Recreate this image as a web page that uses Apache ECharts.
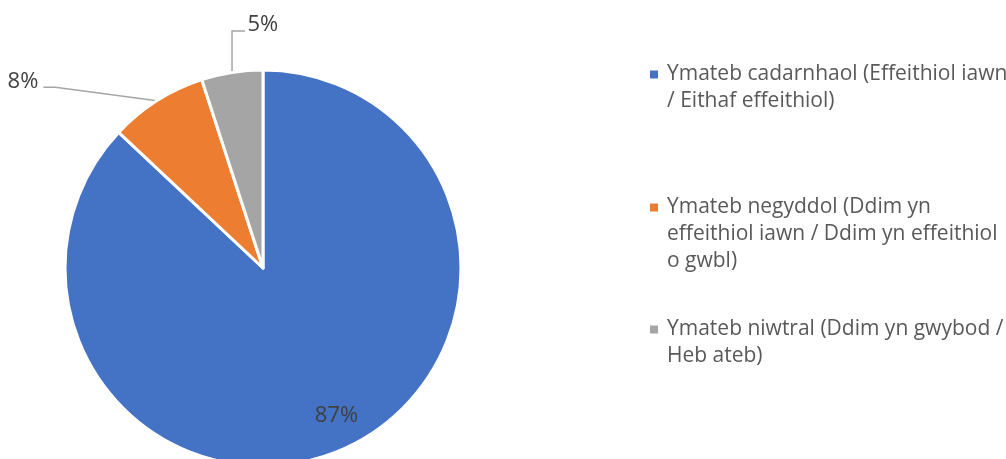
<!DOCTYPE html>
<html><head><meta charset="utf-8">
<script src="https://cdn.jsdelivr.net/npm/echarts@6/dist/echarts.min.js"></script>
<style>html,body{margin:0;padding:0;background:#fff}#c{width:1006px;height:459px}</style>
</head><body><div id="c"></div>
<script>
const categories = [
  'Ymateb cadarnhaol (Effeithiol iawn / Eithaf effeithiol)',
  'Ymateb negyddol (Ddim yn effeithiol iawn / Ddim yn effeithiol o gwbl)',
  'Ymateb niwtral (Ddim yn gwybod / Heb ateb)'
];
const legendLines = [
  ['Ymateb cadarnhaol (Effeithiol iawn', '/ Eithaf effeithiol)'],
  ['Ymateb negyddol (Ddim yn', 'effeithiol iawn / Ddim yn effeithiol', 'o gwbl)'],
  ['Ymateb niwtral (Ddim yn gwybod /', 'Heb ateb)']
];
const values = [87, 8, 5];
const colors = ['#4472C4', '#ED7D31', '#A5A5A5'];
const legendTops = [59, 192, 314];
const FONT = 'Open Sans';

const chart = echarts.init(document.getElementById('c'), null, {renderer: 'canvas'});
chart.setOption({
  animation: false,
  backgroundColor: '#ffffff',
  legend: categories.map((name, i) => ({
    data: [name],
    left: 639,
    top: legendTops[i],
    orient: 'vertical',
    icon: 'none',
    itemWidth: 1,
    itemHeight: 1,
    selectedMode: false,
    formatter: () => legendLines[i].map((l, j) => (j === 0 ? '{sq| }{sp| }' : '{in| }') + '{t|' + l + '}').join('\n'),
    textStyle: {
      rich: {
        sq: {width: 8, height: 8, backgroundColor: colors[i], lineHeight: 27},
        sp: {width: 9, lineHeight: 27},
        in: {width: 17, lineHeight: 27},
        t: {fontSize: 21, fontFamily: FONT, color: '#595959', lineHeight: 27}
      }
    }
  })),
  series: [{
    type: 'pie',
    center: [263, 268],
    radius: 198,
    startAngle: 90,
    clockwise: true,
    avoidLabelOverlap: false,
    itemStyle: {borderColor: '#ffffff', borderWidth: 3},
    label: {formatter: '{c}%', fontSize: 22, fontFamily: FONT, color: '#404040'},
    labelLine: {lineStyle: {color: '#A5A5A5', width: 1.5}},
    data: categories.map((n, i) => ({
      name: n,
      value: values[i],
      itemStyle: {color: colors[i]},
      label: {position: i === 0 ? 'inside' : 'outside', color: '#404040'},
      labelLine: i === 1 ? {show: true, length: 16, length2: 105} : (i === 2 ? {show: true, length: 42, length2: 13} : {show: false})
    })),
    labelLayout: function (p) {
      if (p.dataIndex === 0) return {dx: 33, dy: 54};
      const pts = p.labelLinePoints;
      if (!pts) return {};
      if (p.dataIndex === 1) {
        return {dy: -6, labelLinePoints: [pts[0], [pts[2][0] + 12, pts[1][1]], pts[2]]};
      }
      const len2 = pts[1][0] - pts[2][0];
      return {
        dx: 2 * len2 + 14 + p.labelRect.width,
        dy: -6,
        labelLinePoints: [pts[0], [pts[0][0], pts[1][1]], [pts[0][0] + len2, pts[1][1]]]
      };
    }
  }]
});
</script>
</body></html>
